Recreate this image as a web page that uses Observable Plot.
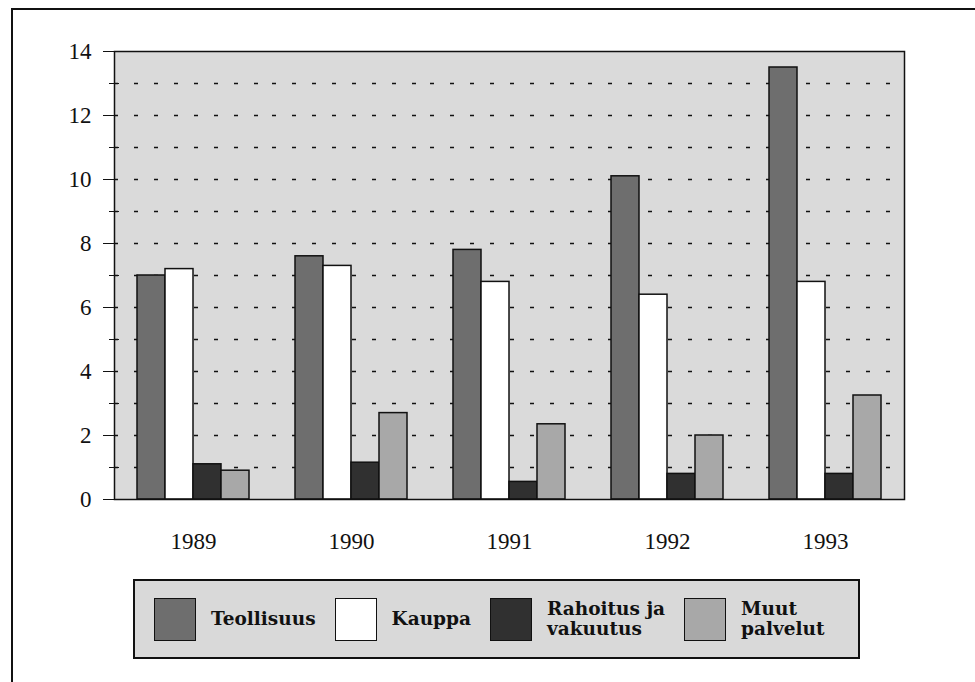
<!DOCTYPE html>
<html>
<head>
<meta charset="utf-8">
<script src="https://cdn.jsdelivr.net/npm/d3@7"></script>
<script src="https://cdn.jsdelivr.net/npm/@observablehq/plot@0.6"></script>
<style>
  html, body { margin: 0; padding: 0; background: #fff; overflow: hidden; }
  #page { position: relative; width: 975px; height: 682px; overflow: hidden; }
  #border { position: absolute; left: 11px; top: 8px; width: 1000px; height: 700px; border: 2px solid #111; box-sizing: border-box; }
  #chart { position: absolute; left: 0; top: 0; }
  #chart svg, #chart svg text { font-family: "Liberation Serif", "Times New Roman", serif !important; }
  #legend { position: absolute; left: 133px; top: 579px; width: 727px; height: 80px; box-sizing: border-box;
            border: 2px solid #111; background: #d9d9d9; display: flex; align-items: center; padding-left: 19px;
            font-family: "DejaVu Serif", serif; font-weight: bold; font-size: 18.5px; line-height: 20px; color: #111; }
  .item { display: flex; align-items: center; margin-right: 19px; }
  .sw { width: 42px; height: 43px; box-sizing: border-box; border: 1.5px solid #111; margin-right: 15px; }
</style>
</head>
<body>
<div id="page">
  <div id="border"></div>
  <div id="chart"></div>
  <div id="legend"></div>
</div>
<script>
const years = ["1989", "1990", "1991", "1992", "1993"];
const series = ["Teollisuus", "Kauppa", "Rahoitus ja vakuutus", "Muut palvelut"];
const legendLines = [["Teollisuus"], ["Kauppa"], ["Rahoitus ja", "vakuutus"], ["Muut", "palvelut"]];
const teollisuus = [7.0, 7.6, 7.8, 10.1, 13.5];
const kauppa = [7.2, 7.3, 6.8, 6.4, 6.8];
const rahoitus = [1.1, 1.15, 0.55, 0.8, 0.8];
const muut = [0.9, 2.7, 2.35, 2.0, 3.25];
const colors = ["#6e6e6e", "#ffffff", "#303030", "#a8a8a8"];
const yTickLabels = [0, 2, 4, 6, 8, 10, 12, 14];
const yMinorTicks = [1, 3, 5, 7, 9, 11, 13];
const gridValues = [1, 2, 3, 4, 5, 6, 7, 8, 9, 10, 11, 12, 13];

const valuesBySeries = [teollisuus, kauppa, rahoitus, muut];
const table = years.flatMap((yr, i) => series.map((s, j) => ({year: yr, series: s, value: valuesBySeries[j][i]})));

const serif = "Liberation Serif";
const chart = Plot.plot({
  width: 975,
  height: 565,
  marginLeft: 113,
  marginRight: 71,
  marginTop: 51,
  marginBottom: 66,
  fx: {domain: years, padding: 0, label: null},
  x: {domain: series, paddingInner: 0, paddingOuter: 0.76, axis: null},
  y: {domain: [0, 14], axis: null},
  color: {domain: series, range: colors},
  style: {fontFamily: serif, fontSize: "23px", background: "transparent", color: "#111"},
  marks: [
    Plot.frame({facet: "super", fill: "#dadada"}),
    Plot.ruleY(gridValues, {stroke: "#111", strokeDasharray: "4,16", strokeWidth: 1.5}),
    Plot.barY(table, {fx: "year", x: "series", y: "value", fill: "series", stroke: "#111", strokeWidth: 1.5}),
    Plot.frame({facet: "super", stroke: "#111", strokeWidth: 1.5}),
    Plot.axisY(yTickLabels, {anchor: "left", tickSize: 11, tickPadding: 12, fontSize: 23, fontFamily: serif, label: null, stroke: "#111"}),
    Plot.axisY(yMinorTicks, {anchor: "left", tickSize: 10, dx: 5, text: null, label: null, stroke: "#111"}),
    Plot.axisFx({anchor: "bottom", tickSize: 0, tickPadding: 33, fontSize: 23, fontFamily: serif, label: null})
  ]
});
document.getElementById("chart").appendChild(chart);

const legend = document.getElementById("legend");
series.forEach((s, j) => {
  const item = document.createElement("div");
  item.className = "item";
  const sw = document.createElement("div");
  sw.className = "sw";
  sw.style.background = colors[j];
  const label = document.createElement("div");
  label.innerHTML = legendLines[j].join("<br>");
  item.appendChild(sw);
  item.appendChild(label);
  legend.appendChild(item);
});
</script>
</body>
</html>
